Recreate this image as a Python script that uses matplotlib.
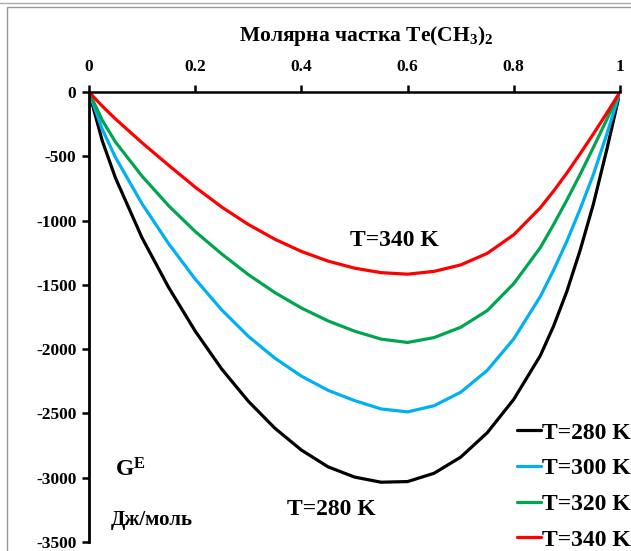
import matplotlib
matplotlib.use("Agg")
import matplotlib.pyplot as plt
from matplotlib.patches import Rectangle

plt.rcParams['font.family'] = ['Liberation Serif', 'DejaVu Serif']
plt.rcParams['font.weight'] = 'bold'
plt.rcParams['axes.unicode_minus'] = False
plt.rcParams['mathtext.fontset'] = 'custom'
plt.rcParams['mathtext.rm'] = 'Liberation Serif:bold'
plt.rcParams['mathtext.bf'] = 'Liberation Serif:bold'
plt.rcParams['mathtext.it'] = 'Liberation Serif:bold'

x = [0, 0.025, 0.05, 0.1, 0.15, 0.2, 0.25, 0.3, 0.35, 0.4, 0.45, 0.5, 0.55, 0.6, 0.65,
     0.7, 0.75, 0.8, 0.85, 0.875, 0.9, 0.925, 0.95, 0.975, 1.0]
g280 = [0, -380, -670, -1135, -1520, -1860, -2155, -2405, -2615, -2785, -2915, -2995, -3035, -3030, -2965,
        -2840, -2650, -2390, -2050, -1820, -1550, -1230, -870, -450, 0]
g300 = [0, -290, -510, -870, -1180, -1455, -1695, -1900, -2070, -2210, -2320, -2400, -2465, -2488, -2440,
        -2335, -2165, -1920, -1590, -1385, -1160, -910, -640, -330, 0]
g320 = [0, -220, -390, -655, -885, -1085, -1260, -1420, -1560, -1680, -1780, -1860, -1922, -1948, -1910,
        -1830, -1700, -1490, -1210, -1030, -840, -640, -430, -215, 0]
g340 = [0, -110, -210, -395, -570, -740, -895, -1030, -1145, -1240, -1315, -1370, -1405, -1417, -1395,
        -1345, -1255, -1110, -900, -770, -630, -480, -325, -165, 0]

series = [("T=280 K", g280, "#000000"),
          ("T=300 K", g300, "#00B0F0"),
          ("T=320 K", g320, "#00A550"),
          ("T=340 K", g340, "#FF0000")]

xticks = [0, 0.2, 0.4, 0.6, 0.8, 1]
xticklabels = ["0", "0.2", "0.4", "0.6", "0.8", "1"]
yticks = [0, -500, -1000, -1500, -2000, -2500, -3000, -3500]

fig = plt.figure(figsize=(6.31, 5.51), dpi=100)
ax = fig.add_axes([89/631, 1 - 542/551, (620-89)/631, (542-92)/551])

for label, g, c in series:
    ax.plot(x, g, color=c, lw=2.3, label=label, solid_capstyle='round', solid_joinstyle='round')

ax.set_xlim(0, 1)
ax.set_ylim(-3500, 0)
ax.xaxis.tick_top()
ax.xaxis.set_label_position('top')
ax.set_xticks(xticks)
ax.set_xticklabels(xticklabels)
ax.set_yticks(yticks)
ax.set_yticklabels([str(v) for v in yticks])
for s in ['right', 'bottom']:
    ax.spines[s].set_visible(False)
ax.spines['top'].set_linewidth(1.8)
ax.spines['left'].set_linewidth(2.0)
ax.tick_params(axis='both', direction='out', width=1.8, length=5, labelsize=12.5, pad=4)
ax.tick_params(axis='x', pad=7)
for t in ax.get_xticklabels() + ax.get_yticklabels():
    t.set_fontweight('bold')

ax.set_xlabel(r"Молярна частка Te(CH$_{3}$)$_{2}$", fontsize=15.5, fontweight='bold')
ax.xaxis.set_label_coords((366 - 89) / 531, 1.113)

ax.text(0.576, -1155, "T=340 K", fontsize=17, fontweight='bold', ha='center', va='center')
ax.text(0.456, -3245, "T=280 K", fontsize=17, fontweight='bold', ha='center', va='center')
ax.text(0.077, -2940, r"G$^{E}$", fontsize=17, fontweight='bold', ha='center', va='center')
ax.text(0.119, -3330, "Дж/моль", fontsize=15, fontweight='bold', ha='center', va='center')

leg = ax.legend(loc='upper left', bbox_to_anchor=(517/631, 1 - 422/551), bbox_transform=fig.transFigure,
                frameon=False, borderpad=0, borderaxespad=0,
                handlelength=1.0, handletextpad=0.08, labelspacing=0.6,
                prop={'family': 'Liberation Serif', 'weight': 'bold', 'size': 17})

fig.patches.append(Rectangle((7/631, -0.01), 1.0, 1 - 7/551 + 0.01, transform=fig.transFigure,
                             fill=False, edgecolor='#999999', lw=1.0))
fig.add_artist(plt.Line2D([0, 1], [1 - 3/551, 1 - 3/551], transform=fig.transFigure,
                          color='#aaaaaa', lw=1.0))

fig.savefig("out.png", dpi=100)
